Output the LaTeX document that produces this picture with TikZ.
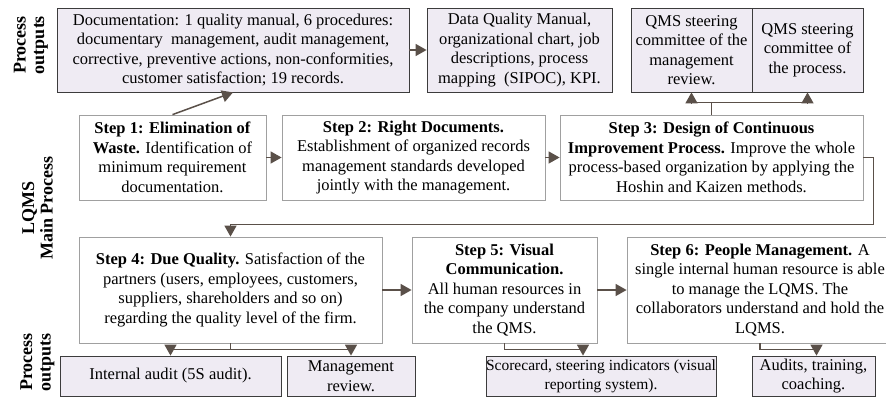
\documentclass[tikz,border=0pt]{standalone}
\usepackage{fontspec}
\setmainfont{Liberation Serif}
\usetikzlibrary{arrows.meta,calc}
\definecolor{outfill}{HTML}{EFEBF3}
\definecolor{outdraw}{HTML}{3C3C3C}
\definecolor{stepdraw}{HTML}{A0A0A0}
\definecolor{arr}{HTML}{5A5049}
\begin{document}
\begin{tikzpicture}[x=1pt,y=-1pt,
 txt/.style={font=\fontsize{16.5}{19.5}\selectfont, align=center, inner sep=0pt, text=black},
 outbox/.style={txt, draw=outdraw, fill=outfill, line width=0.8pt},
 stepbox/.style={txt, draw=stepdraw, fill=white, line width=0.8pt},
 side/.style={font=\fontsize{18}{18.5}\selectfont\bfseries, align=center, rotate=90, inner sep=0pt},
 conn/.style={draw=arr, line width=1.5pt},
 arrow/.style={conn, -{Triangle[length=11pt,width=12pt]}}]
\useasboundingbox (0,0) rectangle (886,397);

% side labels
\node[side] (L1) at (31,45) {Process\\outputs};
\node[side] (L2) at (37.5,208) {LQMS\\Main Process};
\node[side] (L3) at (37.5,362) {Process\\outputs};

% top outputs
\node[outbox, minimum width=352, minimum height=84] (A) at (233,50)
 {Documentation: 1 quality manual, 6 procedures:\\documentary\ \ management, audit management,\\corrective, preventive actions, non-conformities,\\customer satisfaction; 19 records.};
\node[outbox, minimum width=185, minimum height=84] (B) at (519.5,50)
 {Data Quality Manual,\\organizational chart, job\\descriptions, process\\mapping\ \ (SIPOC), KPI.};
\node[outbox, minimum width=121, minimum height=84] (C1) at (691.5,50)
 {QMS steering\\committee of the\\management\\review.};
\node[outbox, minimum width=111, minimum height=84] (C2) at (807.5,50)
 {QMS steering\\committee of\\the process.};

% steps row 1
\node[stepbox, minimum width=187, minimum height=85] (S1) at (172.5,157.5)
 {\textbf{Step 1: Elimination of}\\\textbf{Waste.} Identification of\\minimum requirement\\documentation.};
\node[stepbox, minimum width=263, minimum height=85] (S2) at (413.5,157.5)
 {\textbf{Step 2: Right Documents.}\\Establishment of organized records\\management standards developed\\jointly with the management.};
\node[stepbox, minimum width=303, minimum height=85] (S3) at (711.5,157.5)
 {\textbf{Step 3: Design of Continuous}\\\textbf{Improvement Process.} Improve the whole\\process-based organization by applying the\\Hoshin and Kaizen methods.};

% steps row 2
\node[stepbox, minimum width=303, minimum height=106] (S4) at (230.5,290)
 {\textbf{Step 4: Due Quality.} Satisfaction of the\\partners (users, employees, customers,\\suppliers, shareholders and so on)\\regarding the quality level of the firm.};
\node[stepbox, minimum width=185, minimum height=106] (S5) at (504.5,290)
 {\textbf{Step 5: Visual}\\\textbf{Communication.}\\All human resources in\\the company understand\\the QMS.};
\node[stepbox, minimum width=266, minimum height=106] (S6) at (760,290)
 {\textbf{Step 6: People Management.} A\\single internal human resource is able\\to manage the LQMS. The\\collaborators understand and hold the\\LQMS.};

% bottom outputs
\node[outbox, minimum width=221, minimum height=40] (D) at (170.5,376)
 {Internal audit (5S audit).};
\node[outbox, minimum width=128, minimum height=40] (E) at (351,376)
 {Management\\review.};
\node[outbox, minimum width=228, minimum height=40, font=\fontsize{15.5}{19}\selectfont] (F) at (601,376)
 {Scorecard, steering indicators (visual\\reporting system).};
\node[outbox, minimum width=123, minimum height=40] (G) at (813.5,376)
 {Audits, training,\\coaching.};

% connectors
\draw[arrow] (S1.north) -- (A.south);
\draw[arrow] (A.east) -- (B.west);
\draw[conn] (S3.north) -- ++(0,-12) coordinate (j3);
\draw[arrow] (j3) -| (C1.south);
\draw[arrow] (j3) -| (C2.south);
\draw[arrow] (S1.east) -- (S2.west);
\draw[arrow] (S2.east) -- (S3.west);
\draw[arrow] (S3.east) -- ++(10,0) |- ($(S4.north)+(0,-12)$) -- (S4.north);
\draw[arrow] (S4.east) -- (S5.west);
\draw[arrow] (S5.east) -- (S6.west);
\draw[conn] (S4.south) -- ++(0,6) coordinate (j4);
\draw[arrow] (j4) -| (D.north);
\draw[arrow] (j4) -| (E.north);
\draw[arrow] (S5.south) -- ++(0,6) -| ($(F.north)+(-18,0)$);
\draw[arrow] (S6.south) -- ++(0,6) -| ($(G.north)+(3,0)$);
\end{tikzpicture}
\end{document}
